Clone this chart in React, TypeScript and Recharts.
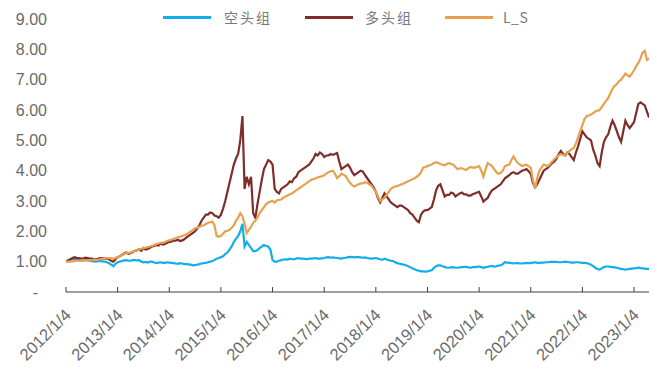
import React from 'react';
import { LineChart, Line, XAxis, YAxis } from 'recharts';

// half-month steps, counted in months from 2012/1/4 (0, 0.5, 1, ... 135.5)
const MONTHS: number[] = Array.from({ length: 272 }, (_, i) => i / 2);

const SHORT_GROUP: number[] = [
  // 2012
  1.00, 1.03, 1.06, 1.08, 1.10, 1.07, 1.06, 1.04, 1.04, 1.06, 1.05, 1.03,
  1.02, 1.01, 1.00, 1.02, 1.02, 1.01, 1.00, 0.98, 0.95, 0.90, 0.85, 0.93,
  // 2013
  0.98, 1.00, 1.02, 1.04, 1.05, 1.03, 1.03, 1.05, 1.06, 1.04, 1.05, 1.00,
  0.98, 0.99, 0.97, 1.00, 1.00, 0.97, 0.95, 0.97, 0.98, 0.96, 0.96, 0.98,
  // 2014
  0.97, 0.96, 0.95, 0.94, 0.93, 0.95, 0.94, 0.92, 0.92, 0.91, 0.90, 0.88,
  0.89, 0.90, 0.92, 0.94, 0.95, 0.96, 0.98, 1.00, 1.02, 1.05, 1.10, 1.12,
  // 2015
  1.15, 1.18, 1.25, 1.30, 1.40, 1.50, 1.65, 1.75, 1.85, 2.00, 2.25, 1.50,
  1.65, 1.55, 1.45, 1.35, 1.35, 1.38, 1.45, 1.50, 1.55, 1.52, 1.50, 1.40,
  // 2016
  1.05, 1.00, 1.00, 1.03, 1.05, 1.07, 1.08, 1.07, 1.10, 1.08, 1.08, 1.10,
  1.12, 1.10, 1.10, 1.09, 1.08, 1.10, 1.10, 1.11, 1.12, 1.10, 1.10, 1.11,
  // 2017
  1.12, 1.14, 1.15, 1.13, 1.14, 1.13, 1.12, 1.11, 1.10, 1.12, 1.13, 1.15,
  1.16, 1.15, 1.14, 1.15, 1.15, 1.14, 1.13, 1.14, 1.12, 1.11, 1.10, 1.11,
  // 2018
  1.12, 1.10, 1.08, 1.06, 1.10, 1.07, 1.05, 1.03, 1.02, 0.98, 0.95, 0.93,
  0.92, 0.90, 0.88, 0.85, 0.82, 0.78, 0.75, 0.72, 0.70, 0.68, 0.68, 0.67,
  // 2019
  0.68, 0.70, 0.72, 0.80, 0.85, 0.88, 0.88, 0.85, 0.83, 0.80, 0.80, 0.81,
  0.82, 0.80, 0.80, 0.81, 0.82, 0.83, 0.83, 0.81, 0.80, 0.82, 0.82, 0.83,
  // 2020
  0.84, 0.82, 0.80, 0.82, 0.83, 0.85, 0.86, 0.84, 0.85, 0.87, 0.88, 0.92,
  0.98, 0.97, 0.96, 0.95, 0.94, 0.95, 0.95, 0.94, 0.94, 0.95, 0.96, 0.95,
  // 2021
  0.95, 0.97, 0.98, 0.96, 0.96, 0.97, 0.97, 0.98, 0.98, 0.99, 1.00, 0.99,
  0.99, 0.98, 0.98, 0.99, 1.00, 0.99, 0.98, 0.97, 0.97, 0.98, 0.98, 0.97,
  // 2022
  0.96, 0.96, 0.95, 0.93, 0.90, 0.85, 0.80, 0.76, 0.74, 0.78, 0.82, 0.84,
  0.84, 0.83, 0.82, 0.81, 0.80, 0.78, 0.76, 0.75, 0.74, 0.75, 0.76, 0.77,
  // 2023
  0.78, 0.79, 0.80, 0.79, 0.78, 0.77, 0.76, 0.76,
];

const LONG_GROUP: number[] = [
  // 2012
  1.00, 1.05, 1.08, 1.12, 1.15, 1.12, 1.12, 1.10, 1.10, 1.13, 1.12, 1.10,
  1.10, 1.08, 1.08, 1.10, 1.12, 1.11, 1.10, 1.09, 1.08, 1.03, 1.00, 1.08,
  // 2013
  1.15, 1.18, 1.22, 1.27, 1.30, 1.26, 1.28, 1.32, 1.35, 1.38, 1.40, 1.36,
  1.45, 1.40, 1.42, 1.46, 1.50, 1.52, 1.55, 1.53, 1.60, 1.56, 1.58, 1.62,
  // 2014
  1.65, 1.66, 1.70, 1.69, 1.72, 1.68, 1.70, 1.74, 1.80, 1.85, 1.90, 1.95,
  2.00, 2.10, 2.20, 2.35, 2.45, 2.55, 2.55, 2.62, 2.60, 2.52, 2.50, 2.45,
  // 2015
  2.55, 2.75, 3.00, 3.30, 3.60, 3.90, 4.20, 4.40, 4.55, 5.00, 5.80, 3.40,
  3.80, 3.55, 3.80, 2.60, 2.45, 2.90, 3.30, 3.70, 4.05, 4.20, 4.35, 4.30,
  // 2016
  4.20, 3.40, 3.30, 3.25, 3.40, 3.45, 3.50, 3.55, 3.65, 3.62, 3.75, 3.80,
  3.95, 4.00, 4.05, 4.10, 4.15, 4.20, 4.30, 4.40, 4.55, 4.50, 4.60, 4.55,
  // 2017
  4.45, 4.50, 4.50, 4.55, 4.52, 4.55, 4.58, 4.30, 4.05, 4.10, 4.15, 4.20,
  4.10, 3.95, 3.85, 3.90, 3.95, 4.00, 3.97, 3.85, 3.75, 3.65, 3.55, 3.45,
  // 2018
  3.30, 3.10, 2.95, 3.10, 3.25, 3.15, 3.05, 2.95, 2.90, 2.85, 2.80, 2.85,
  2.85, 2.80, 2.75, 2.70, 2.60, 2.55, 2.45, 2.35, 2.30, 2.55, 2.65, 2.70,
  // 2019
  2.70, 2.75, 2.80, 3.05, 3.35, 3.50, 3.55, 3.35, 3.15, 3.20, 3.20, 3.28,
  3.25, 3.15, 3.20, 3.25, 3.28, 3.22, 3.22, 3.18, 3.18, 3.22, 3.25, 3.28,
  // 2020
  3.30, 3.15, 2.98, 3.05, 3.10, 3.25, 3.35, 3.40, 3.45, 3.50, 3.55, 3.65,
  3.75, 3.80, 3.85, 3.92, 3.95, 3.90, 3.90, 3.95, 4.00, 4.02, 4.05, 3.98,
  // 2021
  3.90, 3.60, 3.45, 3.55, 3.70, 3.85, 4.00, 4.05, 4.10, 4.18, 4.25, 4.30,
  4.40, 4.55, 4.65, 4.55, 4.50, 4.60, 4.55, 4.45, 4.35, 4.60, 4.80, 5.05,
  // 2022
  5.30, 5.20, 5.10, 5.05, 5.00, 4.70, 4.50, 4.25, 4.15, 4.60, 4.95, 5.10,
  5.20, 5.45, 5.65, 5.50, 5.30, 5.10, 4.95, 5.30, 5.65, 5.50, 5.40, 5.50,
  // 2023
  5.60, 5.90, 6.20, 6.25, 6.20, 6.15, 5.95, 5.75,
];

const LS_GROUP: number[] = [
  // 2012
  1.00, 1.00, 1.00, 1.01, 1.02, 1.03, 1.03, 1.04, 1.05, 1.04, 1.04, 1.05,
  1.05, 1.06, 1.06, 1.07, 1.08, 1.09, 1.10, 1.11, 1.12, 1.11, 1.10, 1.12,
  // 2013
  1.15, 1.18, 1.22, 1.25, 1.28, 1.29, 1.30, 1.33, 1.35, 1.38, 1.40, 1.42,
  1.45, 1.46, 1.48, 1.50, 1.52, 1.55, 1.58, 1.60, 1.62, 1.63, 1.65, 1.68,
  // 2014
  1.70, 1.72, 1.75, 1.78, 1.80, 1.82, 1.85, 1.87, 1.90, 1.95, 2.00, 2.05,
  2.10, 2.12, 2.15, 2.18, 2.20, 2.24, 2.28, 2.30, 2.32, 2.20, 1.85, 1.82,
  // 2015
  1.85, 1.92, 2.00, 2.02, 2.05, 2.12, 2.20, 2.35, 2.45, 2.60, 2.50, 2.25,
  1.95, 2.05, 2.15, 2.28, 2.35, 2.45, 2.60, 2.70, 2.80, 2.90, 2.95, 2.98,
  // 2016
  3.00, 2.95, 3.02, 3.04, 3.05, 3.10, 3.15, 3.18, 3.22, 3.25, 3.30, 3.35,
  3.40, 3.45, 3.50, 3.55, 3.60, 3.65, 3.70, 3.72, 3.75, 3.78, 3.80, 3.82,
  // 2017
  3.85, 3.90, 3.95, 3.98, 4.00, 3.90, 3.75, 3.82, 3.90, 3.86, 3.82, 3.70,
  3.60, 3.52, 3.48, 3.52, 3.55, 3.58, 3.58, 3.62, 3.60, 3.55, 3.50, 3.40,
  // 2018
  3.30, 3.15, 3.00, 3.05, 3.10, 3.20, 3.30, 3.40, 3.45, 3.48, 3.50, 3.52,
  3.55, 3.58, 3.62, 3.65, 3.68, 3.72, 3.75, 3.80, 3.85, 3.95, 4.10, 4.12,
  // 2019
  4.15, 4.18, 4.20, 4.25, 4.28, 4.25, 4.22, 4.20, 4.18, 4.22, 4.25, 4.22,
  4.20, 4.12, 4.05, 4.08, 4.08, 4.05, 4.02, 4.08, 4.12, 4.10, 4.10, 4.12,
  // 2020
  4.15, 4.00, 3.80, 4.05, 4.25, 4.20, 4.15, 4.05, 3.95, 3.90, 3.92, 4.00,
  4.15, 4.18, 4.20, 4.35, 4.47, 4.35, 4.25, 4.20, 4.15, 4.18, 4.20, 4.15,
  // 2021
  4.10, 3.70, 3.40, 3.75, 4.00, 4.10, 4.20, 4.18, 4.15, 4.22, 4.30, 4.38,
  4.45, 4.50, 4.55, 4.52, 4.50, 4.58, 4.65, 4.70, 4.75, 4.90, 5.10, 5.30,
  // 2022
  5.50, 5.70, 5.80, 5.82, 5.85, 5.90, 5.95, 5.98, 6.00, 6.10, 6.20, 6.30,
  6.40, 6.55, 6.70, 6.80, 6.85, 6.95, 7.00, 7.10, 7.20, 7.15, 7.10, 7.20,
  // 2023
  7.30, 7.45, 7.55, 7.70, 7.90, 7.95, 7.65, 7.70,
];

const X_TICKS: number[] = [2012, 2013, 2014, 2015, 2016, 2017, 2018, 2019, 2020, 2021, 2022, 2023];
const Y_TICKS: number[] = [0, 1, 2, 3, 4, 5, 6, 7, 8, 9];

const SERIES = [
  { key: 'short', name: '空头组', color: '#12AEEB', spacing: 2 },
  { key: 'long', name: '多头组', color: '#7E2D2A', spacing: 2 },
  { key: 'ls', name: 'L_S', color: '#E6A04F', spacing: 0.5 },
];

const data = MONTHS.map((m, i) => ({
  t: 2012 + m / 12,
  short: SHORT_GROUP[i],
  long: LONG_GROUP[i],
  ls: LS_GROUP[i],
}));

const FONT = '"Liberation Sans", Arial, sans-serif';

const XTick = (props: any) => {
  const { x, y, payload } = props;
  const ax = x + 6;
  const ay = y + 24;
  return (
    <g>
      <line x1={x} x2={x} y1={y - 5} y2={y} stroke="#404040" strokeWidth={1} />
      <text
        x={ax}
        y={ay}
        transform={`rotate(-45 ${ax} ${ay})`}
        textAnchor="end"
        fontSize={16.5}
        fill="#6a6a6a"
        fontFamily={FONT}
      >
        {`${payload.value}/1/4`}
      </text>
    </g>
  );
};

const YTick = (props: any) => {
  const { y, payload } = props;
  const v = payload.value as number;
  return (
    <text
      x={v === 0 ? 38 : 47}
      y={y}
      dy="0.36em"
      textAnchor="end"
      fontSize={16}
      fill="#6a6a6a"
      fontFamily={FONT}
    >
      {v === 0 ? '-' : v.toFixed(2)}
    </text>
  );
};

const LEGEND_POS = [
  { line: 163, text: 224 },
  { line: 305, text: 365 },
  { line: 445, text: 503 },
];

export default function App() {
  return (
    <div style={{ position: 'absolute', left: 0, top: 0, width: 657, height: 369, background: '#fff' }}>
      <LineChart
        width={657}
        height={369}
        data={data}
        margin={{ top: 19, right: 8, bottom: 17, left: 10 }}
      >
        <XAxis
          dataKey="t"
          type="number"
          domain={[2012, 2023.29]}
          ticks={X_TICKS}
          interval={0}
          tick={<XTick />}
          tickLine={false}
          tickSize={0}
          tickMargin={0}
          axisLine={{ stroke: '#404040', strokeWidth: 1 }}
          height={60}
          allowDataOverflow
        />
        <YAxis
          type="number"
          domain={[0, 9]}
          ticks={Y_TICKS}
          interval={0}
          tick={<YTick />}
          tickLine={false}
          axisLine={false}
          width={56}
        />
        {SERIES.map((s) => (
          <Line
            key={s.key}
            dataKey={s.key}
            name={s.name}
            type="linear"
            stroke={s.color}
            strokeWidth={2.2}
            dot={false}
            activeDot={false}
            isAnimationActive={false}
          />
        ))}
      </LineChart>
      {SERIES.map((s, i) => (
        <React.Fragment key={s.key}>
          <div
            style={{
              position: 'absolute',
              left: LEGEND_POS[i].line,
              top: 16,
              width: 48,
              height: 3,
              background: s.color,
            }}
          />
          <div
            style={{
              position: 'absolute',
              left: LEGEND_POS[i].text,
              top: 8,
              fontSize: 14,
              lineHeight: '18px',
              letterSpacing: s.spacing,
              color: '#7a7a7a',
              fontFamily: '"Noto Sans CJK SC", "Liberation Sans", sans-serif',
              whiteSpace: 'nowrap',
            }}
          >
            {s.name}
          </div>
        </React.Fragment>
      ))}
    </div>
  );
}
